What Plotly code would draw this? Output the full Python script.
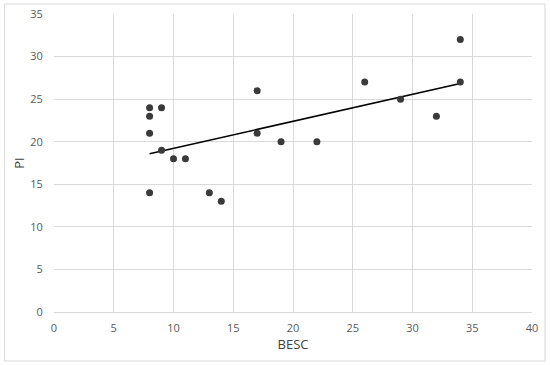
import numpy as np
import plotly.graph_objects as go

besc = [8, 8, 8, 8, 9, 9, 10, 11, 13, 14, 17, 17, 19, 22, 26, 29, 32, 34, 34]
pi = [24, 23, 21, 14, 24, 19, 18, 18, 14, 13, 26, 21, 20, 20, 27, 25, 23, 32, 27]
x_ticks = [0, 5, 10, 15, 20, 25, 30, 35, 40]
y_ticks = [0, 5, 10, 15, 20, 25, 30, 35]

slope, intercept = np.polyfit(besc, pi, 1)
tx = [min(besc), max(besc)]
ty = [slope * v + intercept for v in tx]

font = "Open Sans, DejaVu Sans, sans-serif"

L, R, T, B = 53.5, 532, 14, 312
W, H = R - L, B - T

fig = go.Figure()
fig.add_trace(go.Scatter(x=tx, y=ty, mode="lines",
                         line=dict(color="#000000", width=1.5), hoverinfo="skip"))
fig.add_trace(go.Scatter(x=besc, y=pi, mode="markers",
                         marker=dict(color="#3a3a3a", size=7)))

fig.update_layout(
    width=550, height=365,
    margin=dict(l=L, r=550 - R, t=T, b=365 - B, autoexpand=False),
    paper_bgcolor="white", plot_bgcolor="white",
    showlegend=False,
    font=dict(family=font, color="#595959", size=11),
    shapes=[dict(type="rect", xref="paper", yref="paper",
                 x0=(4 - L) / W, x1=(545 - L) / W,
                 y0=(B - 361) / H, y1=(B - 4) / H,
                 line=dict(color="#d9d9d9", width=1), layer="below")],
)
fig.update_xaxes(range=[0, 40], tickvals=x_ticks, showgrid=True, gridcolor="#d9d9d9",
                 gridwidth=1, zeroline=False, showline=True, linecolor="#d9d9d9",
                 ticks="outside", ticklen=6, tickcolor="rgba(0,0,0,0)", automargin=False,
                 title=dict(text="BESC", font=dict(size=13, color="#404040"), standoff=3),
                 tickfont=dict(size=11, color="#595959"))
fig.update_yaxes(range=[0, 35], tickvals=y_ticks, showgrid=True, gridcolor="#d9d9d9",
                 gridwidth=1, zeroline=False, showline=False, automargin=False,
                 ticks="outside", ticklen=8, tickcolor="rgba(0,0,0,0)",
                 title=dict(text="PI", font=dict(size=13, color="#404040"), standoff=2),
                 tickfont=dict(size=11, color="#595959"))

fig.write_html("out.html", config={"displayModeBar": False},
               post_script="document.body.style.margin='0';document.body.style.overflow='hidden';")
